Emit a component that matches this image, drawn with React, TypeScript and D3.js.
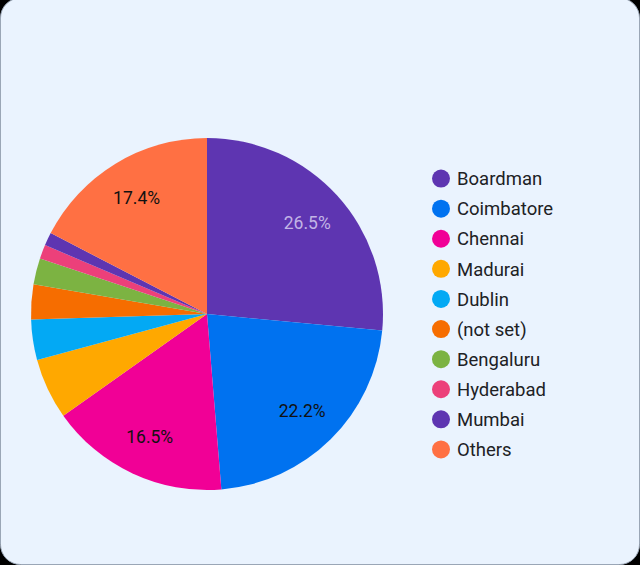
import React from "react";
import * as d3 from "d3";

const categories = ["Boardman", "Coimbatore", "Chennai", "Madurai", "Dublin", "(not set)", "Bengaluru", "Hyderabad", "Mumbai", "Others"];
const values = [26.5, 22.2, 16.5, 5.6, 3.7, 3.2, 2.4, 1.3, 1.2, 17.4];
const colors = ["#5E35B1", "#0072F0", "#F10096", "#FFA800", "#03A9F4", "#F66D00", "#7CB342", "#EC407A", "#5E35B1", "#FF7043"];
const labelColors = ["#C2B4E6", "#111111", "#111111", "#111111", "#111111", "#111111", "#111111", "#111111", "#111111", "#111111"];

const W = 640;
const H = 565;
const cx = 207;
const cy = 314;
const R = 176;

export default function App() {
  React.useEffect(() => {
    document.body.style.margin = "0";
    document.body.style.background = "#000";
  }, []);

  const data = categories.map((c, i) => ({ c, v: values[i], i }));
  const pie = d3.pie<any>().value((d) => d.v).sort(null);
  const arcs = pie(data);
  const arc = d3.arc<any>().innerRadius(0).outerRadius(R);
  const labelArc = d3.arc<any>().innerRadius(R * 0.77).outerRadius(R * 0.77);

  const legendY = d3.scaleBand<string>().domain(categories).range([163.5, 464.5]);

  return (
    <svg width={W} height={H} style={{ display: "block", position: "absolute", left: 0, top: 0 }}>
      <rect x={0} y={0} width={W} height={H} fill="#000" />
      <rect x={0.5} y={-2} width={W - 1} height={H + 1.5} rx={20} ry={20} fill="#EAF3FE" stroke="#9AA6B6" strokeWidth={1} />
      <g transform={`translate(${cx},${cy})`}>
        {arcs.map((a, i) => (
          <path key={i} d={arc(a) as string} fill={colors[i]} />
        ))}
        {arcs.map((a, i) => {
          if (a.data.v < 10) return null;
          const [x, y] = labelArc.centroid(a);
          return (
            <text key={"l" + i} x={x} y={y} dy="0.35em" textAnchor="middle" fontFamily="Roboto" fontSize={17.5} fill={labelColors[i]}>
              {a.data.v.toFixed(1) + "%"}
            </text>
          );
        })}
      </g>
      <g>
        {categories.map((c, i) => {
          const y = (legendY(c) as number) + legendY.bandwidth() / 2;
          return (
            <g key={c}>
              <circle cx={441} cy={y} r={9} fill={colors[i]} />
              <text x={457} y={y} dy="0.36em" fontFamily="Roboto" fontSize={18.5} fill="#202124">
                {c}
              </text>
            </g>
          );
        })}
      </g>
    </svg>
  );
}
